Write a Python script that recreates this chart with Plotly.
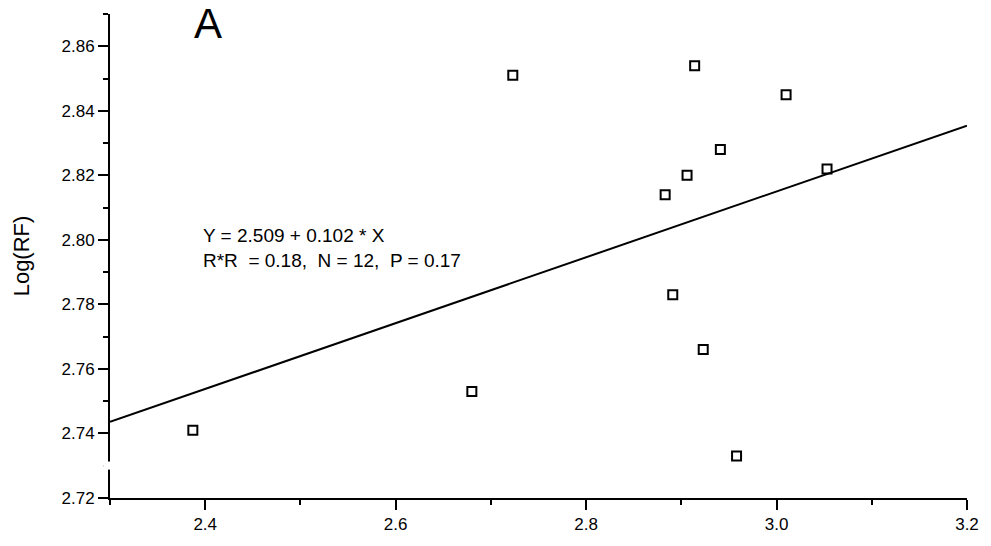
import numpy as np
import plotly.graph_objects as go

# Measured points: log of the x variable vs Log(RF)
log_x = [2.387, 2.680, 2.723, 2.914, 2.883, 2.906, 2.941, 3.010, 3.053, 2.891, 2.923, 2.958]
log_rf = [2.741, 2.753, 2.851, 2.854, 2.814, 2.820, 2.828, 2.845, 2.822, 2.783, 2.766, 2.733]

# Linear fit reported in the panel
intercept = 2.509
slope = 0.102
fit_label = "Y = 2.509 + 0.102 * X"
stats_label = "R*R  = 0.18,  N = 12,  P = 0.17"
panel_label = "A"

x_range = [2.3, 3.2]
y_range = [2.72, 2.87]

FONT = "Arial, Liberation Sans, sans-serif"

fit_x = np.array(x_range)
fit_y = intercept + slope * fit_x

fig = go.Figure()

fig.add_trace(go.Scatter(
    x=fit_x, y=fit_y, mode="lines",
    line=dict(color="black", width=2),
    showlegend=False, hoverinfo="skip",
))

fig.add_trace(go.Scatter(
    x=log_x, y=log_rf, mode="markers",
    marker=dict(symbol="square-open", size=9, color="black",
                line=dict(color="black", width=2)),
    showlegend=False,
))

axis_common = dict(
    showgrid=False, zeroline=False, showline=True,
    linecolor="black", linewidth=2,
    ticks="outside", ticklen=10, tickwidth=2, tickcolor="black",
    tickfont=dict(family=FONT, size=17, color="black"),
)

fig.update_xaxes(
    range=x_range, tick0=2.4, dtick=0.2, tickformat=".1f",
    minor=dict(ticks="outside", ticklen=5, tickwidth=2, tickcolor="black",
               dtick=0.1, tick0=2.3, showgrid=False),
    **axis_common,
)
fig.update_yaxes(
    range=y_range, tick0=2.72, dtick=0.02, tickformat=".2f",
    minor=dict(ticks="outside", ticklen=5, tickwidth=2, tickcolor="black",
               dtick=0.01, tick0=2.72, showgrid=False),
    title=dict(text="Log(RF)", font=dict(family=FONT, size=22, color="black"),
               standoff=26),
    **axis_common,
)

# Small break in the vertical axis just above the bottom tick
fig.add_shape(
    type="rect", xref="paper", yref="y",
    x0=-0.008, x1=0.008, y0=2.7288, y1=2.7313,
    fillcolor="white", line=dict(width=0), layer="above",
)

fig.add_annotation(
    x=2.396, y=2.8013, xref="x", yref="y", text=fit_label,
    showarrow=False, xanchor="left", yanchor="middle",
    font=dict(family=FONT, size=19, color="black"),
)
fig.add_annotation(
    x=2.396, y=2.7937, xref="x", yref="y", text=stats_label,
    showarrow=False, xanchor="left", yanchor="middle",
    font=dict(family=FONT, size=19, color="black"),
)
fig.add_annotation(
    x=2.403, y=2.867, xref="x", yref="y", text=panel_label,
    showarrow=False, xanchor="center", yanchor="middle",
    font=dict(family=FONT, size=42, color="black"),
)

fig.update_layout(
    width=991, height=546,
    margin=dict(l=110, r=19, t=14, b=39),
    paper_bgcolor="white", plot_bgcolor="white",
    font=dict(family=FONT, color="black"),
)

fig.write_html("out.html")
